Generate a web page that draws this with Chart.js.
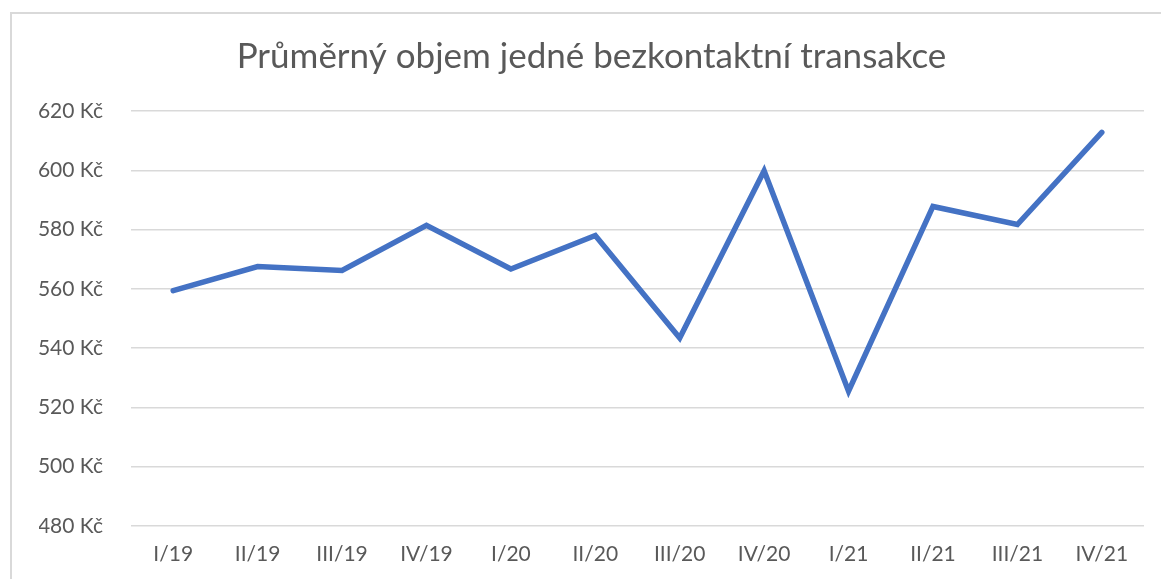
<!DOCTYPE html>
<html>
<head>
<meta charset="utf-8">
<script src="https://cdn.jsdelivr.net/npm/chart.js@4"></script>
<style>
  html, body { margin: 0; padding: 0; background: #fff; }
  #wrap { position: relative; width: 1161px; height: 579px; overflow: hidden; }
  #frame { position: absolute; left: 10px; top: 12px; width: 1200px; height: 700px; border: 2px solid #d9d9d9; box-sizing: border-box; }
  canvas { position: absolute; left: 0; top: 0; }
</style>
</head>
<body>
<div id="wrap">
  <div id="frame"></div>
  <canvas id="c" width="1161" height="579"></canvas>
</div>
<script>
const categories = ['I/19','II/19','III/19','IV/19','I/20','II/20','III/20','IV/20','I/21','II/21','III/21','IV/21'];
const avgVolume = [559.4, 567.5, 566.2, 581.4, 566.7, 578.0, 543.4, 599.8, 525.5, 587.8, 581.7, 612.8];
const yMin = 480, yMax = 620, yStep = 20;
const titleText = 'Průměrný objem jedné bezkontaktní transakce';
const currency = ' Kč';

const FONT = 'Lato';
const TXT = '#595959';

new Chart(document.getElementById('c'), {
  type: 'line',
  data: {
    labels: categories,
    datasets: [{
      data: avgVolume,
      borderColor: '#4472C4',
      borderWidth: 5.5,
      borderCapStyle: 'round',
      borderJoinStyle: 'miter',
      pointRadius: 0,
      pointHoverRadius: 0,
      tension: 0,
      fill: false
    }]
  },
  options: {
    responsive: false,
    animation: false,
    layout: { padding: { left: 39, right: 17, top: 0, bottom: 0 } },
    plugins: {
      legend: { display: false },
      tooltip: { enabled: false },
      title: {
        display: true,
        text: titleText,
        color: TXT,
        font: { family: FONT, size: 35, weight: 'normal' },
        padding: { top: 36, bottom: 33 }
      }
    },
    scales: {
      x: {
        offset: true,
        grid: { display: false, drawTicks: false },
        border: { display: false },
        ticks: { color: TXT, font: { family: FONT, size: 21 }, padding: 16, maxRotation: 0, autoSkip: false },
        afterFit: (s) => { s.height = 53; }
      },
      y: {
        min: yMin, max: yMax,
        grid: { color: '#d9d9d9', lineWidth: 1.5, drawTicks: false },
        border: { display: false },
        ticks: {
          stepSize: yStep,
          color: TXT,
          font: { family: FONT, size: 21 },
          padding: 28,
          callback: (v) => v + currency
        },
        afterFit: (s) => { s.width = 92; }
      }
    }
  }
});
</script>
</body>
</html>
